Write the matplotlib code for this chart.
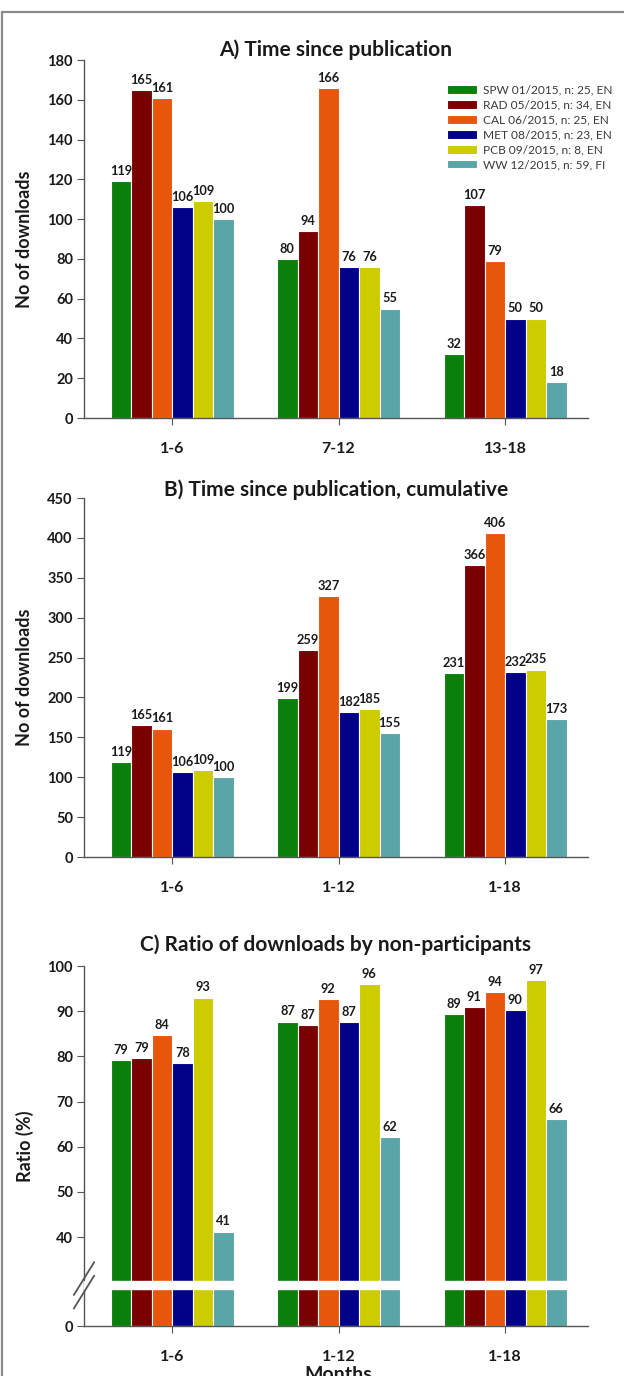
import numpy as np
import matplotlib
matplotlib.use('Agg')
import matplotlib.pyplot as plt
from matplotlib.patches import Rectangle

plt.rcParams['font.family'] = ['Lato', 'DejaVu Sans']

# data
series = ["SPW 01/2015, n: 25, EN", "RAD 05/2015, n: 34, EN", "CAL 06/2015, n: 25, EN",
          "MET 08/2015, n: 23, EN", "PCB 09/2015, n: 8, EN", "WW 12/2015, n: 59, FI"]
colors = ["#0a800a", "#7a0000", "#e8560c", "#000088", "#cccc00", "#5aa5a8"]

months_a = ["1-6", "7-12", "13-18"]
months_bc = ["1-6", "1-12", "1-18"]

# A) downloads per period (rows = series)
dl_a = [[119, 80, 32],
        [165, 94, 107],
        [161, 166, 79],
        [106, 76, 50],
        [109, 76, 50],
        [100, 55, 18]]

# B) cumulative downloads
dl_b = [[119, 199, 231],
        [165, 259, 366],
        [161, 327, 406],
        [106, 182, 232],
        [109, 185, 235],
        [100, 155, 173]]

# C) ratio of downloads by non-participants (%), bar heights and printed labels
ratio_c = [[79.2, 87.7, 89.3],
           [79.7, 87.0, 90.9],
           [84.7, 92.7, 94.2],
           [78.5, 87.5, 90.2],
           [93.0, 96.0, 96.9],
           [41.2, 62.2, 66.2]]
ratio_lbl = [[79, 87, 89],
             [79, 87, 91],
             [84, 92, 94],
             [78, 87, 90],
             [93, 96, 97],
             [41, 62, 66]]

C_ZERO = 20.3   # where "0" sits on the broken axis of panel C

fig = plt.figure(figsize=(6.24, 13.76), dpi=100)
W, H = 624, 1376

def px_axes(top, bottom, left=84, right=588):
    return fig.add_axes([left / W, 1 - bottom / H, (right - left) / W, (bottom - top) / H])

axA = px_axes(60, 418)
axB = px_axes(498, 857)
axC = px_axes(966, 1326)

bw = 0.123
x = np.arange(3)
txt = "#1a1a1a"

def style(ax, xlabels):
    for s in ['top', 'right']:
        ax.spines[s].set_visible(False)
    for s in ['left', 'bottom']:
        ax.spines[s].set_color('#555555')
        ax.spines[s].set_linewidth(1.0)
    ax.set_xlim(-0.529, 2.498)
    ax.set_xticks(x)
    ax.set_xticklabels(xlabels, fontsize=11.5, fontweight='bold', color=txt)
    ax.tick_params(axis='x', length=5, pad=12, color='#555555')
    ax.tick_params(axis='y', length=5, pad=3, color='#555555', labelsize=10.5, labelcolor=txt)
    for lab in ax.get_yticklabels():
        lab.set_fontweight('bold')

def bars(ax, data, labels, base=0):
    for i in range(len(series)):
        xs = x + (i - 2.5) * bw
        vals = np.array(data[i])
        ax.bar(xs, vals - base, bw, bottom=base, color=colors[i], edgecolor='white',
               linewidth=0.8, label=series[i], zorder=2)
        for xx, v, l in zip(xs, vals, labels[i]):
            ax.annotate(str(l), (xx, v), xytext=(0, 3), textcoords='offset points',
                        ha='center', va='bottom', fontsize=9.2, fontweight='bold', color=txt)

# Panel A
bars(axA, dl_a, dl_a)
axA.set_ylim(0, 180)
axA.set_yticks(range(0, 181, 20))
style(axA, months_a)
axA.text(0.5, 1.028, "A) Time since publication", transform=axA.transAxes,
         ha='center', va='center', fontsize=15, fontweight='bold', color=txt)
axA.set_ylabel("No of downloads", fontsize=13, fontweight='bold', color=txt, labelpad=10)

# Panel B
bars(axB, dl_b, dl_b)
axB.set_ylim(0, 450)
axB.set_yticks(range(0, 451, 50))
style(axB, months_bc)
axB.text(0.5, 1.022, "B) Time since publication, cumulative", transform=axB.transAxes,
         ha='center', va='center', fontsize=15, fontweight='bold', color=txt)
axB.set_ylabel("No of downloads", fontsize=13, fontweight='bold', color=txt, labelpad=10)

# Panel C (broken axis)
bars(axC, ratio_c, ratio_lbl, base=C_ZERO)
axC.set_ylim(C_ZERO, 100)
axC.set_yticks([C_ZERO] + list(range(40, 101, 10)))
axC.set_yticklabels(["0"] + [str(v) for v in range(40, 101, 10)])
style(axC, months_bc)
axC.axhspan(28.4, 30.2, color='white', zorder=5)
tr = axC.get_yaxis_transform()
for yc in (27.8, 30.8):
    axC.plot([-0.02, 0.02], [yc - 3.6, yc + 3.6], transform=tr, color='#555555',
             lw=1.3, clip_on=False, zorder=6)
axC.text(0.5, 1.058, "C) Ratio of downloads by non-participants", transform=axC.transAxes,
         ha='center', va='center', fontsize=15, fontweight='bold', color=txt)
axC.set_ylabel("Ratio (%)", fontsize=13, fontweight='bold', color=txt, labelpad=10)

# axis title sits at the very bottom edge, half cut off as in the original
fig.text(338 / W, 1 - 1380 / H, "Months", ha='center', va='baseline', fontsize=14,
         fontweight='bold', color=txt)

# legend
h, l = axA.get_legend_handles_labels()
fig.legend(h, l, loc='upper left', bbox_to_anchor=(442 / W, 1 - 80 / H), frameon=False,
           fontsize=8.6, handlelength=2.5, handleheight=0.7, labelspacing=0.33,
           handletextpad=0.5, labelcolor='#3a3a3a', borderaxespad=0)

# outer frame
fig.patches.append(Rectangle((2 / W, -0.05), 1.1, 1 - 12 / H + 0.05, transform=fig.transFigure,
                             fill=False, edgecolor='#8a8a8a', linewidth=1.6))

fig.savefig("out.png", dpi=100, facecolor='white')
